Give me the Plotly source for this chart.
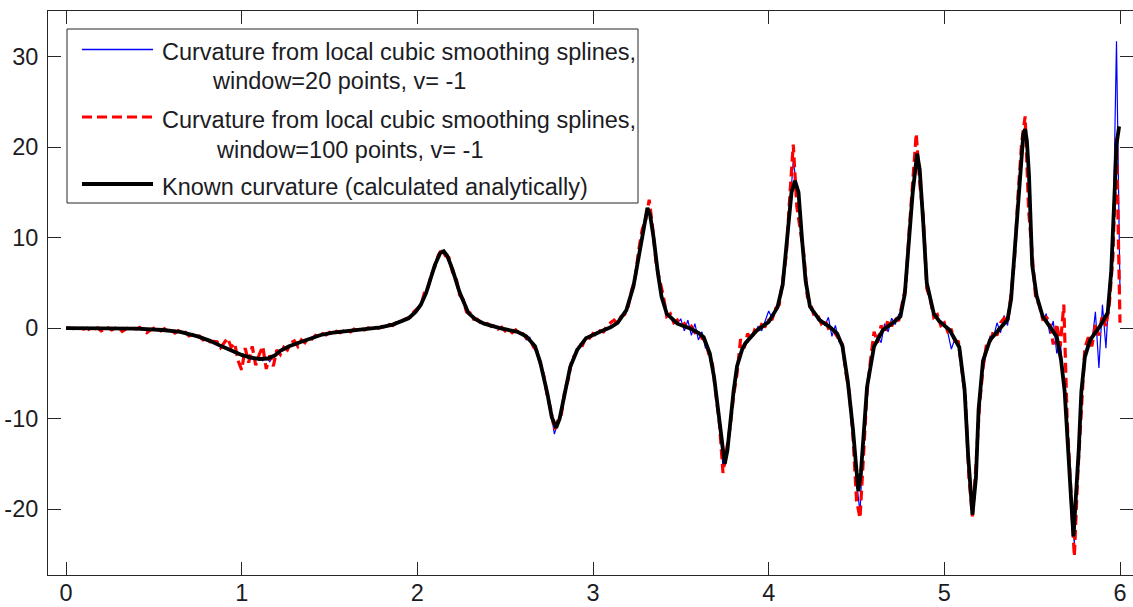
import numpy as np
import plotly.graph_objects as go

# ---- analytic curvature (non-uniform samples, denser around the extrema) ----
known_x = [0.00, 0.20, 0.40, 0.55, 0.65, 0.75, 0.82, 0.88, 0.94, 1.00, 1.05, 1.10, 1.15, 1.19, 1.22,
           1.27, 1.34, 1.40, 1.45, 1.52, 1.60, 1.70, 1.79, 1.86, 1.91, 1.95, 1.99, 2.02, 2.05, 2.08,
           2.10, 2.13, 2.15, 2.17, 2.20, 2.24, 2.29, 2.33, 2.38, 2.47, 2.57, 2.62, 2.67, 2.70, 2.74,
           2.765, 2.79, 2.81, 2.84, 2.87, 2.91, 2.96, 3.04, 3.10, 3.14, 3.19, 3.23, 3.27, 3.29, 3.31,
           3.325, 3.345, 3.37, 3.39, 3.42, 3.48, 3.55, 3.60, 3.63, 3.665, 3.69, 3.72, 3.735, 3.75, 3.765,
           3.78, 3.80, 3.82, 3.85, 3.87, 3.93, 4.00, 4.05, 4.08, 4.11, 4.13, 4.15, 4.17, 4.19, 4.21,
           4.235, 4.29, 4.35, 4.39, 4.42, 4.45, 4.48, 4.50, 4.51, 4.525, 4.54, 4.56, 4.60, 4.65, 4.70,
           4.75, 4.775, 4.80, 4.82, 4.845, 4.86, 4.88, 4.90, 4.94, 4.97, 5.03, 5.085, 5.115, 5.135, 5.16,
           5.18, 5.195, 5.22, 5.26, 5.31, 5.36, 5.38, 5.40, 5.43, 5.45, 5.46, 5.47, 5.482, 5.49, 5.50,
           5.525, 5.56, 5.64, 5.665, 5.685, 5.705, 5.72, 5.735, 5.75, 5.765, 5.78, 5.80, 5.83, 5.885, 5.93,
           5.95, 5.97, 5.98, 5.995]
known_k = [0.0, 0.0, -0.05, -0.2, -0.4, -0.9, -1.4, -1.95, -2.5, -2.95, -3.25, -3.4, -3.35, -3.0, -2.5,
           -2.0, -1.5, -1.05, -0.75, -0.5, -0.3, -0.1, 0.1, 0.4, 0.75, 1.1, 1.8, 2.6, 3.9, 5.6,
           7.0, 8.3, 8.5, 8.0, 6.5, 4.0, 1.7, 1.0, 0.5, 0.0, -0.4, -0.9, -2.0, -3.8, -7.2,
           -9.8, -11.0, -10.0, -7.2, -4.3, -2.4, -1.1, -0.4, 0.1, 0.6, 2.0, 4.6, 9.0, 11.5, 13.3,
           12.5, 10.0, 6.0, 3.5, 1.6, 0.5, 0.0, -0.5, -1.0, -2.8, -5.5, -10.0, -13.0, -15.0, -13.5,
           -10.5, -7.0, -4.2, -2.3, -1.6, -0.3, 0.7, 2.3, 4.8, 10.5, 15.0, 16.3, 15.0, 9.8, 5.3,
           2.4, 0.9, 0.1, -0.6, -2.0, -5.8, -11.2, -16.5, -18.0, -16.0, -11.5, -6.5, -2.0, -0.2, 0.5,
           1.3, 3.8, 10.0, 15.0, 19.3, 17.5, 11.6, 5.0, 1.6, 0.8, -0.2, -2.1, -6.7, -13.9, -20.6,
           -16.5, -9.0, -3.6, -1.3, -0.2, 0.95, 3.2, 8.5, 16.9, 21.5, 22.0, 20.7, 16.9, 11.6, 7.0,
           3.6, 1.3, -0.95, -3.6, -7.0, -12.7, -18.4, -23.0, -18.4, -13.5, -7.0, -3.2, -1.3, 0.2, 1.7,
           6.3, 15.4, 20.3, 22.3]

# ---- spline estimates, evaluated every 0.02 on [0, 6] ----
spline_x = np.round(np.linspace(0.0, 6.0, 301), 2)

win20_k = [
    0.0, 0.0, 0.0, 0.05, 0.0, -0.05, 0.0, 0.0, 0.05, 0.0,
    0.0, -0.05, 0.0, 0.05, -0.05, 0.0, 0.0, -0.1, 0.0, 0.05,
    -0.05, -0.1, 0.0, -0.1, -0.15, -0.1, -0.05, -0.2, -0.1, -0.2,
    -0.35, -0.3, -0.45, -0.4, -0.5, -0.6, -0.8, -0.8, -1.0, -1.1,
    -1.3, -1.35, -1.65, -1.75, -2.0, -2.1, -2.4, -2.4, -2.75, -2.7,
    -3.1, -2.9, -3.4, -3.1, -3.5, -3.3, -3.6, -3.2, -3.7, -3.0,
    -2.8, -2.6, -2.2, -2.2, -1.9, -1.85, -1.6, -1.55, -1.3, -1.25,
    -1.0, -0.95, -0.75, -0.75, -0.6, -0.58, -0.48, -0.47, -0.38, -0.36,
    -0.3, -0.25, -0.24, -0.17, -0.15, -0.09, -0.06, 0.01, 0.02, 0.09,
    0.12, 0.22, 0.28, 0.42, 0.53, 0.7, 0.8, 1.0, 1.22, 1.62,
    2.0, 2.65, 3.4, 4.55, 5.55, 7.05, 7.85, 8.6, 8.35, 7.45,
    6.55, 5.1, 4.1, 2.9, 2.05, 1.45, 1.2, 0.85, 0.75, 0.45,
    0.45, 0.25, 0.25, 0.0, 0.0, -0.15, -0.15, -0.35, -0.3, -0.6,
    -0.6, -1.3, -1.0, -2.2, -2.4, -3.9, -5.4, -7.3, -9.2, -11.7,
    -10.3, -9.1, -7.1, -5.3, -3.6, -2.8, -2.0, -1.7, -1.0, -1.0,
    -0.6, -0.7, -0.3, -0.3, -0.1, 0.2, 0.3, 0.7, 1.0, 1.8,
    2.5, 4.0, 5.6, 8.0, 10.1, 12.6, 13.1, 10.4, 7.7, 4.7,
    3.0, 1.5, 1.3, 0.7, 0.6, 1.0, -0.3, 0.9, -0.8, 0.5,
    -1.3, -0.4, -2.2, -2.3, -4.6, -6.9, -10.1, -15.5, -14.3, -10.4,
    -6.9, -4.3, -2.5, -1.7, -1.6, -0.7, -0.6, 0.2, -0.3, 0.8,
    1.9, 1.1, 1.9, 2.8, 4.9, 8.4, 13.0, 18.5, 15.6, 12.8,
    7.3, 4.2, 2.0, 1.8, 0.9, 0.9, 0.3, 1.2, -0.9, 0.3,
    -1.5, -1.8, -4.7, -7.4, -11.5, -16.8, -20.5, -11.2, -6.8, -3.6,
    -2.3, -0.8, -1.6, 0.5, -0.4, 1.1, 0.4, 1.5, 2.0, 5.2,
    9.8, 15.3, 18.8, 17.2, 11.9, 4.8, 3.0, 1.4, 1.2, 0.4,
    0.5, -0.5, -2.3, -1.2, -1.9, -3.7, -8.8, -15.2, -20.6, -16.0,
    -7.2, -4.5, -2.7, -0.9, -1.0, 0.6, -0.5, 1.4, 0.3, 3.0,
    8.7, 14.2, 19.8, 22.6, 16.8, 7.6, 3.6, 2.8, 0.9, 1.6,
    -0.6, 0.8, -2.8, -1.6, -5.5, -11.8, -17.5, -23.8, -14.4, -7.0,
    -3.0, -1.2, -1.6, 1.8, -4.4, 2.6, -2.2, 5.0, 9.6, 31.7,
    4.0,
]

win100_k = [
    0.0, 0.02, -0.05, 0.0, 0.05, -0.1, 0.0, -0.25, -0.1, 0.05,
    -0.3, -0.15, 0.05, -0.2, 0.0, 0.1, -0.35, -0.1, 0.05, 0.0,
    -0.1, 0.1, -0.2, -0.5, -0.2, 0.0, -0.1, -0.3, -0.05, -0.35,
    -0.25, -0.54, -0.28, -0.55, -0.45, -0.85, -0.7, -1.0, -0.87, -1.3,
    -1.15, -1.5, -1.45, -1.5, -2.15, -1.65, -1.1, -2.1, -1.65, -3.6,
    -4.6, -2.2, -3.8, -2.0, -4.1, -2.9, -2.0, -4.5, -3.0, -4.2,
    -2.4, -2.9, -2.1, -2.4, -1.6, -1.4, -2.0, -1.3, -1.6, -1.0,
    -1.2, -0.8, -0.95, -0.6, -0.75, -0.45, -0.6, -0.35, -0.5, -0.3,
    -0.2, -0.4, -0.1, -0.3, -0.05, -0.2, 0.05, -0.1, 0.1, 0.0,
    0.2, 0.1, 0.4, 0.3, 0.6, 0.5, 0.9, 1.1, 1.2, 1.8,
    2.2, 2.5, 3.9, 4.4, 5.9, 6.8, 8.1, 8.7, 8.0, 7.8,
    6.2, 5.6, 3.7, 3.2, 1.8, 1.7, 1.0, 1.0, 0.6, 0.6,
    0.5, 0.2, 0.3, -0.1, 0.1, -0.3, -0.1, -0.5, -0.2, -0.6,
    -0.6, -1.1, -1.2, -2.0, -2.5, -4.0, -5.3, -7.5, -9.0, -11.2,
    -10.2, -9.5, -6.8, -5.6, -3.4, -2.9, -1.8, -1.9, -1.0, -1.1,
    -0.6, -0.8, -0.3, -0.4, 0.3, 0.6, 0.9, 0.5, 1.3, 1.5,
    2.4, 4.2, 5.5, 8.6, 10.9, 12.0, 14.2, 11.0, 7.0, 5.3,
    3.6, 1.3, 1.6, 0.6, 0.9, 0.2, 0.5, -0.2, 0.2, -0.5,
    -0.3, -1.1, -1.4, -2.9, -4.0, -7.4, -10.6, -16.0, -13.2, -11.0,
    -7.5, -5.0, -1.2, -2.2, -0.6, -1.3, -0.2, -0.5, 0.4, 0.2,
    0.9, 1.0, 2.2, 2.6, 5.3, 8.0, 14.5, 20.3, 13.5, 10.8,
    8.2, 3.5, 2.6, 1.3, 1.4, 0.5, 0.9, 0.0, 0.2, -0.6,
    -1.2, -1.8, -5.0, -7.2, -12.0, -19.0, -21.0, -13.2, -7.0, -3.5,
    -0.4, -1.6, 0.3, -0.6, 1.0, 0.2, 1.2, 0.8, 2.8, 4.6,
    10.8, 16.5, 21.5, 16.0, 12.4, 4.4, 3.2, 1.2, 1.5, 0.3,
    0.6, -0.4, -0.2, -1.4, -1.5, -4.6, -7.8, -16.5, -20.8, -15.2,
    -8.6, -4.4, -1.8, -1.6, -0.3, -0.8, 0.6, 1.1, 0.6, 3.8,
    7.8, 14.8, 20.5, 23.4, 13.0, 8.2, 3.3, 2.6, 1.0, 1.2,
    0.8, -1.8, 0.5, -2.0, 2.6, -10.5, -18.5, -25.2, -16.0, -9.0,
    -2.2, -1.0, -2.0, 0.4, -0.8, 1.5, 0.2, 2.8, 8.0, 21.0,
    0.6,
]

assert len(known_x) == len(known_k)
assert len(win20_k) == len(spline_x) == len(win100_k)

x_ticks = [0, 1, 2, 3, 4, 5, 6]
y_ticks = [-20, -10, 0, 10, 20, 30]
y_tick_text = ["-20", "-10", "0", "10", "20", "30"]

legend_lines = [
    "Curvature from local cubic smoothing splines,",
    "window=20 points, v= -1",
    "Curvature from local cubic smoothing splines,",
    "window=100 points, v= -1",
    "Known curvature (calculated analytically)",
]

FONT = "Liberation Sans, Arial, Helvetica, sans-serif"
FONT_SIZE = 23.5
AXIS_COLOR = "#262626"
TEXT_COLOR = "#1c1c24"

W, H = 1133, 607
PLOT_L, PLOT_T, PLOT_W, PLOT_H = 48, 11, 1085, 564


def px_x(px):
    return (px - PLOT_L) / PLOT_W


def px_y(py):
    return (PLOT_T + PLOT_H - py) / PLOT_H


fig = go.Figure()
fig.add_trace(go.Scatter(x=spline_x, y=win20_k, mode="lines",
                         line=dict(color="#0000ff", width=1.2),
                         showlegend=False, hoverinfo="skip"))
fig.add_trace(go.Scatter(x=spline_x, y=win100_k, mode="lines",
                         line=dict(color="#ff0000", width=3.2, dash="10px,5px"),
                         showlegend=False, hoverinfo="skip"))
fig.add_trace(go.Scatter(x=known_x, y=known_k, mode="lines",
                         line=dict(color="#000000", width=3.8),
                         showlegend=False, hoverinfo="skip"))

# legend frame and line samples (drawn in paper space)
shapes = [
    dict(type="rect", xref="paper", yref="paper",
         x0=px_x(67), x1=px_x(638), y0=px_y(203), y1=px_y(29),
         line=dict(color=AXIS_COLOR, width=1), fillcolor="white", layer="above"),
    dict(type="line", xref="paper", yref="paper",
         x0=px_x(82), x1=px_x(153), y0=px_y(49.5), y1=px_y(49.5),
         line=dict(color="#0000ff", width=1.3), layer="above"),
    dict(type="line", xref="paper", yref="paper",
         x0=px_x(82), x1=px_x(153), y0=px_y(117), y1=px_y(117),
         line=dict(color="#ff0000", width=3.2, dash="10px,5px"), layer="above"),
    dict(type="line", xref="paper", yref="paper",
         x0=px_x(82), x1=px_x(153), y0=px_y(184), y1=px_y(184),
         line=dict(color="#000000", width=4), layer="above"),
]

text_left = [160, 210, 160, 214, 160]
text_mid = [52, 81, 120, 150, 187]
annotations = [
    dict(text=t, xref="paper", yref="paper", x=px_x(xl), y=px_y(ym),
         xanchor="left", yanchor="middle", showarrow=False,
         font=dict(family=FONT, size=FONT_SIZE, color=TEXT_COLOR))
    for t, xl, ym in zip(legend_lines, text_left, text_mid)
]

axis_common = dict(
    showgrid=False, zeroline=False,
    showline=True, linecolor=AXIS_COLOR, linewidth=1, mirror="ticks",
    ticks="inside", ticklen=13, tickwidth=1, tickcolor=AXIS_COLOR,
    tickfont=dict(family=FONT, size=FONT_SIZE, color=TEXT_COLOR),
)

fig.update_layout(
    width=W, height=H,
    margin=dict(l=PLOT_L, r=W - PLOT_L - PLOT_W, t=PLOT_T, b=H - PLOT_T - PLOT_H, autoexpand=False),
    paper_bgcolor="white", plot_bgcolor="white",
    showlegend=False,
    xaxis=dict(range=[-0.1025, 6.074], tickmode="array", tickvals=x_ticks,
               ticklabelstandoff=-3, **axis_common),
    yaxis=dict(range=[-27.27, 35.05], tickmode="array", tickvals=y_ticks, ticktext=y_tick_text,
               ticklabelstandoff=4, **axis_common),
    shapes=shapes,
    annotations=annotations,
)

fig.write_html("out.html")
